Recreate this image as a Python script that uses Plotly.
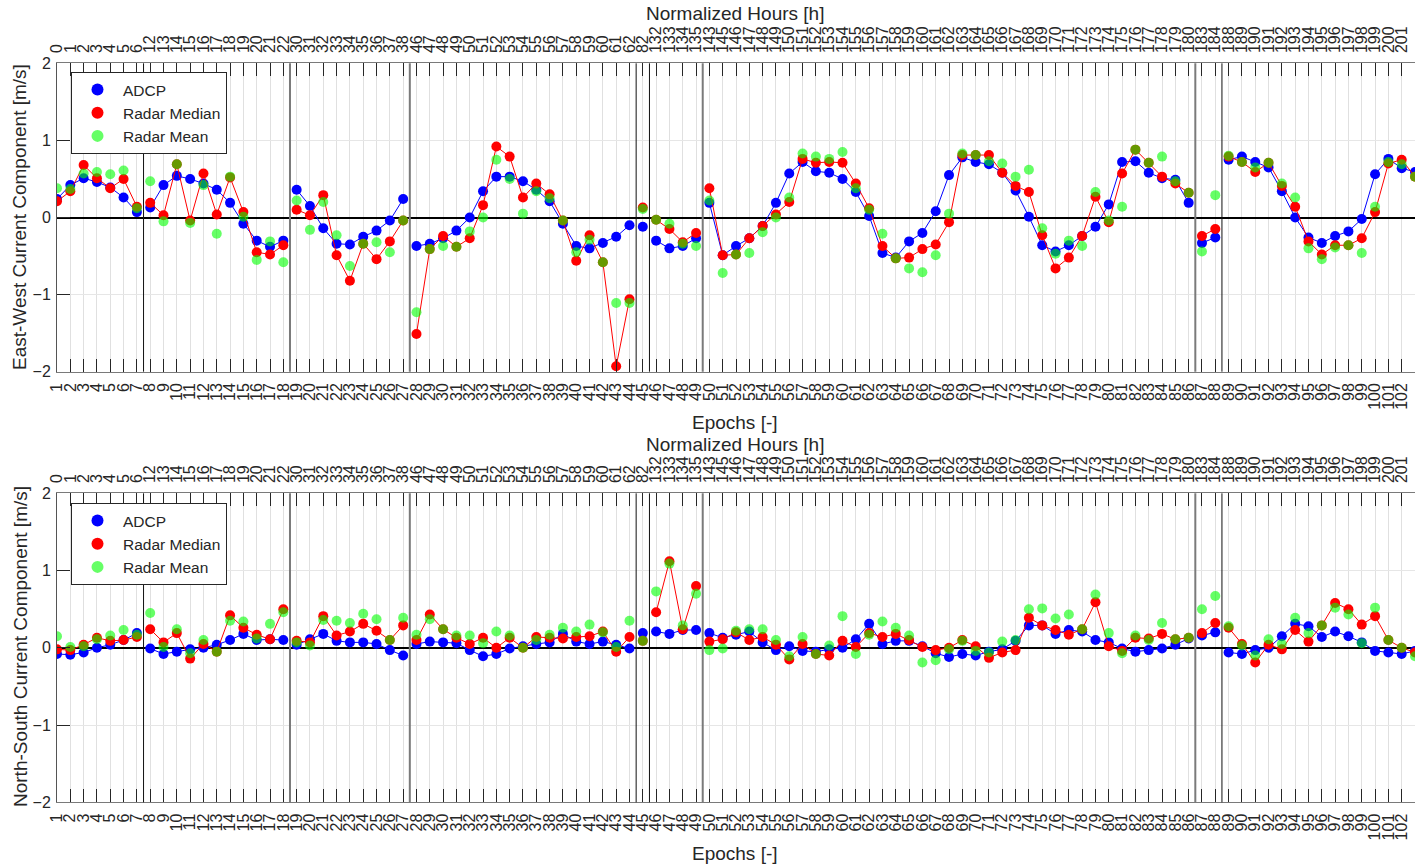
import plotly.graph_objects as go

# Epoch index (bottom axis) and the matching normalized hour (top axis)
epochs = [1, 2, 3, 4, 5, 6, 7, 8, 9, 10, 11, 12, 13, 14, 15, 16, 17, 18, 19, 20,
          21, 22, 23, 24, 25, 26, 27, 28, 29, 30, 31, 32, 33, 34, 35, 36, 37, 38, 39, 40,
          41, 42, 43, 44, 45, 46, 47, 48, 49, 50, 51, 52, 53, 54, 55, 56, 57, 58, 59, 60,
          61, 62, 63, 64, 65, 66, 67, 68, 69, 70, 71, 72, 73, 74, 75, 76, 77, 78, 79, 80,
          81, 82, 83, 84, 85, 86, 87, 88, 89, 90, 91, 92, 93, 94, 95, 96, 97, 98, 99, 100,
          101, 102, 103]
hours = [0, 1, 2, 3, 4, 5, 6,
         12, 13, 14, 15, 16, 17, 18, 19, 20, 21, 22,
         30, 31, 32, 33, 34, 35, 36, 37, 38,
         46, 47, 48, 49, 50, 51, 52, 53, 54, 55, 56, 57, 58, 59, 60, 61, 62,
         82,
         132, 133, 134, 135,
         143, 145, 146, 147, 148, 149, 150, 151, 152, 153, 154, 155, 156, 157, 158, 159,
         160, 161, 162, 163, 164, 165, 166, 167, 168, 169, 170, 171, 172, 173, 174, 175,
         176, 177, 178, 179, 180,
         183, 184,
         188, 189, 190, 191, 192, 193, 194, 195, 196, 197, 198, 199, 200, 201, 202]

# First epoch of each continuous measurement block
segment_starts = [1, 8, 19, 28, 45, 46, 50, 87, 89]
# Block separators drawn as vertical lines (dark = thin black, light = thick grey)
separator_dark = [7.5, 44.5, 45.5, 88.5]
separator_light = [18.5, 27.5, 49.5, 86.5]

# East-West component [m/s]
ew_adcp = [0.24, 0.42, 0.51, 0.46, 0.39, 0.26, 0.07, 0.13, 0.42, 0.54, 0.50, 0.44, 0.36, 0.19, -0.08,
           -0.30, -0.38, -0.30, 0.36, 0.15, -0.14, -0.34, -0.35, -0.25, -0.17, -0.04, 0.24, -0.37,
           -0.34, -0.27, -0.17, 0.00, 0.34, 0.53, 0.53, 0.47, 0.36, 0.21, -0.08, -0.37, -0.40, -0.33,
           -0.25, -0.10, -0.12, -0.30, -0.40, -0.37, -0.27, 0.19, -0.49, -0.37, -0.27, -0.11, 0.19,
           0.57, 0.72, 0.60, 0.58, 0.50, 0.33, 0.02, -0.46, -0.52, -0.31, -0.20, 0.08, 0.55, 0.78,
           0.72, 0.69, 0.58, 0.35, 0.01, -0.36, -0.44, -0.36, -0.24, -0.12, 0.17, 0.72, 0.73, 0.58,
           0.51, 0.49, 0.19, -0.33, -0.26, 0.75, 0.79, 0.72, 0.65, 0.34, 0.00, -0.26, -0.33, -0.24,
           -0.18, -0.02, 0.56, 0.76, 0.64, 0.59]
ew_median = [0.21, 0.34, 0.68, 0.51, 0.38, 0.50, 0.14, 0.19, 0.03, 0.69, -0.04, 0.57, 0.04, 0.52, 0.07,
             -0.45, -0.48, -0.36, 0.10, 0.03, 0.29, -0.49, -0.82, -0.34, -0.54, -0.31, -0.04, -1.51,
             -0.41, -0.24, -0.38, -0.27, 0.16, 0.92, 0.79, 0.26, 0.44, 0.30, -0.04, -0.56, -0.23,
             -0.58, -1.93, -1.06, 0.13, -0.03, -0.15, -0.32, -0.20, 0.38, -0.49, -0.48, -0.27, -0.11,
             0.04, 0.20, 0.76, 0.71, 0.72, 0.71, 0.44, 0.12, -0.37, -0.53, -0.52, -0.41, -0.35, -0.06,
             0.81, 0.81, 0.81, 0.58, 0.41, 0.33, -0.23, -0.66, -0.52, -0.24, 0.27, -0.06, 0.57, 0.88,
             0.71, 0.53, 0.44, 0.32, -0.24, -0.15, 0.79, 0.72, 0.59, 0.71, 0.41, 0.14, -0.31, -0.48,
             -0.36, -0.36, -0.27, 0.07, 0.70, 0.75, 0.53]
ew_mean = [0.38, 0.37, 0.57, 0.59, 0.56, 0.61, 0.12, 0.47, -0.05, 0.69, -0.07, 0.42, -0.21, 0.53, 0.01,
           -0.55, -0.31, -0.58, 0.22, -0.16, 0.20, -0.23, -0.63, -0.34, -0.32, -0.45, -0.04, -1.23,
           -0.41, -0.37, -0.38, -0.18, 0.00, 0.75, 0.50, 0.05, 0.34, 0.25, -0.04, -0.45, -0.29, -0.58,
           -1.11, -1.11, 0.11, -0.03, -0.08, -0.34, -0.37, 0.22, -0.72, -0.48, -0.46, -0.19, 0.00,
           0.26, 0.83, 0.79, 0.76, 0.85, 0.38, 0.10, -0.21, -0.53, -0.66, -0.71, -0.49, 0.05, 0.83,
           0.81, 0.73, 0.70, 0.53, 0.62, -0.14, -0.47, -0.30, -0.37, 0.33, -0.04, 0.14, 0.88, 0.71,
           0.79, 0.47, 0.32, -0.44, 0.29, 0.80, 0.72, 0.65, 0.71, 0.44, 0.26, -0.40, -0.54, -0.39,
           -0.36, -0.46, 0.14, 0.72, 0.69, 0.53]

# North-South component [m/s]
ns_adcp = [-0.08, -0.09, -0.06, 0.00, 0.04, 0.10, 0.19, -0.01, -0.08, -0.05, -0.02, 0.00, 0.04, 0.10,
           0.18, 0.10, 0.11, 0.10, 0.04, 0.11, 0.18, 0.09, 0.07, 0.07, 0.05, -0.03, -0.10, 0.05, 0.08,
           0.07, 0.06, -0.03, -0.11, -0.08, -0.01, 0.02, 0.05, 0.07, 0.18, 0.08, 0.05, 0.08, 0.04,
           -0.01, 0.19, 0.21, 0.18, 0.23, 0.23, 0.19, 0.13, 0.17, 0.21, 0.07, -0.03, 0.02, -0.04,
           -0.05, -0.02, 0.00, 0.11, 0.31, 0.05, 0.09, 0.09, 0.02, -0.07, -0.12, -0.08, -0.10, -0.05,
           -0.02, 0.09, 0.29, 0.29, 0.18, 0.23, 0.21, 0.10, 0.07, -0.01, -0.05, -0.03, -0.01, 0.04,
           0.12, 0.16, 0.20, -0.06, -0.08, -0.03, 0.00, 0.15, 0.31, 0.28, 0.14, 0.21, 0.15, 0.07,
           -0.04, -0.06, -0.08, -0.04]
ns_median = [-0.02, -0.03, 0.04, 0.13, 0.09, 0.10, 0.14, 0.24, 0.07, 0.19, -0.14, 0.05, -0.05, 0.42,
             0.26, 0.17, 0.11, 0.50, 0.09, 0.07, 0.41, 0.16, 0.21, 0.31, 0.22, 0.10, 0.29, 0.10, 0.43,
             0.24, 0.13, 0.05, 0.13, 0.00, 0.13, 0.00, 0.14, 0.13, 0.12, 0.14, 0.15, 0.21, -0.05, 0.14,
             0.09, 0.46, 1.12, 0.24, 0.80, 0.08, 0.11, 0.20, 0.10, 0.14, 0.04, -0.15, 0.05, -0.08,
             -0.10, 0.09, 0.01, 0.19, 0.14, 0.18, 0.10, 0.01, -0.03, 0.00, 0.10, 0.02, -0.13, -0.06,
             -0.03, 0.39, 0.29, 0.23, 0.17, 0.24, 0.59, 0.02, -0.04, 0.13, 0.12, 0.18, 0.11, 0.13,
             0.19, 0.32, 0.26, 0.05, -0.19, 0.04, -0.02, 0.23, 0.08, 0.29, 0.58, 0.50, 0.30, 0.41,
             0.10, 0.00, -0.06]
ns_mean = [0.15, 0.01, 0.02, 0.11, 0.16, 0.23, 0.17, 0.45, 0.01, 0.24, -0.07, 0.10, -0.05, 0.35, 0.34,
           0.12, 0.31, 0.46, 0.07, 0.03, 0.36, 0.35, 0.32, 0.44, 0.37, 0.10, 0.39, 0.17, 0.37, 0.24,
           0.16, 0.16, 0.06, 0.21, 0.16, 0.00, 0.10, 0.17, 0.26, 0.21, 0.30, 0.20, 0.01, 0.35, 0.09,
           0.73, 1.09, 0.29, 0.70, -0.03, -0.01, 0.22, 0.24, 0.24, 0.10, -0.11, 0.14, -0.08, 0.03,
           0.41, -0.08, 0.17, 0.34, 0.26, 0.16, -0.19, -0.16, -0.02, 0.09, -0.04, -0.06, 0.08, 0.10,
           0.50, 0.51, 0.38, 0.43, 0.24, 0.69, 0.19, -0.07, 0.16, 0.10, 0.32, 0.11, 0.13, 0.50, 0.67,
           0.28, 0.03, -0.10, 0.11, 0.05, 0.39, 0.19, 0.29, 0.52, 0.43, 0.06, 0.52, 0.10, 0.00, -0.11]

series_names = ["ADCP", "Radar Median", "Radar Mean"]
BLUE = "rgb(0,0,255)"
RED = "rgb(255,0,0)"
GREEN = "rgba(0,255,0,0.6)"
TXT = "#262626"
FONT = "Liberation Sans"

W, H = 1415, 866
ML = 57


def broken(values):
    """Insert gaps between measurement blocks so lines do not bridge them."""
    xs, ys = [], []
    for e, v in zip(epochs, values):
        if e in segment_starts and e != segment_starts[0]:
            xs.append(None)
            ys.append(None)
        xs.append(e)
        ys.append(v)
    return xs, ys


def py(px):
    return 1 - px / H


def pxx(px):
    return (px - ML) / (W - ML)


fig = go.Figure()

panels = [
    dict(x="x", y="y", xt="x3", legend="legend", data=(ew_adcp, ew_median, ew_mean)),
    dict(x="x2", y="y2", xt="x4", legend="legend2", data=(ns_adcp, ns_median, ns_mean)),
]

for p in panels:
    adcp, med, mean = p["data"]
    for vals, col in ((adcp, BLUE), (med, RED)):
        bx, by = broken(vals)
        fig.add_trace(go.Scatter(x=bx, y=by, mode="lines+markers", xaxis=p["x"], yaxis=p["y"],
                                 line=dict(color=col, width=1),
                                 marker=dict(color=col, size=10, line=dict(width=0)),
                                 showlegend=False, hoverinfo="skip"))
    fig.add_trace(go.Scatter(x=epochs, y=mean, mode="markers", xaxis=p["x"], yaxis=p["y"],
                             marker=dict(color=GREEN, size=10, line=dict(width=0)),
                             showlegend=False, hoverinfo="skip"))
    # legend entries (marker only)
    for name, col in zip(series_names, (BLUE, RED, GREEN)):
        fig.add_trace(go.Scatter(x=[None], y=[None], mode="markers", name=name,
                                 xaxis=p["x"], yaxis=p["y"], legend=p["legend"],
                                 marker=dict(color=col, size=10)))
    # carrier for the top (hours) axis
    fig.add_trace(go.Scatter(x=[epochs[0], epochs[-1]], y=[None, None], mode="markers",
                             xaxis=p["xt"], yaxis=p["y"], showlegend=False, hoverinfo="skip"))

top_dom = [py(371.7), py(63.3)]
bot_dom = [py(802.3), py(493.3)]

xr = [epochs[0], epochs[-1]]
bottom_axis = dict(range=xr, tickmode="array", tickvals=epochs, ticktext=[str(e) for e in epochs],
                   tickangle=-90, ticks="inside", ticklen=13, tickwidth=1, tickcolor=TXT,
                   tickfont=dict(family=FONT, size=16, color=TXT), ticklabelstandoff=4,
                   showgrid=True, gridcolor="#e0e0e0", gridwidth=1, zeroline=False,
                   showline=True, linecolor="#7a7a7a", linewidth=1, domain=[0, 1],
                   automargin=False)
top_axis = dict(range=xr, tickmode="array", tickvals=epochs, ticktext=[str(h) for h in hours],
                tickangle=-90, ticks="inside", ticklen=13, tickwidth=1, tickcolor=TXT,
                tickfont=dict(family=FONT, size=16, color=TXT), side="top", ticklabelstandoff=6,
                showgrid=False, zeroline=False, showline=True, linecolor="#7a7a7a", linewidth=1,
                automargin=False)
y_axis = dict(range=[-2, 2], tickmode="array", tickvals=[-2, -1, 0, 1, 2],
              ticks="inside", ticklen=13, tickwidth=1, tickcolor=TXT,
              tickfont=dict(family=FONT, size=16, color=TXT), ticklabelstandoff=2,
              showgrid=True, gridcolor="#e6e6e6", gridwidth=1,
              zeroline=True, zerolinecolor="#000000", zerolinewidth=1.5,
              showline=True, linecolor="#555555", linewidth=1, automargin=False)

fig.update_layout(
    width=W, height=H,
    margin=dict(l=ML, r=0, t=0, b=0, pad=0, autoexpand=False),
    paper_bgcolor="white", plot_bgcolor="white",
    font=dict(family=FONT, color=TXT),
    xaxis=dict(bottom_axis, anchor="y"),
    xaxis2=dict(bottom_axis, anchor="y2"),
    xaxis3=dict(top_axis, overlaying="x", anchor="y"),
    xaxis4=dict(top_axis, overlaying="x2", anchor="y2"),
    yaxis=dict(y_axis, domain=top_dom, anchor="x"),
    yaxis2=dict(y_axis, domain=bot_dom, anchor="x2"),
)

leg_common = dict(xanchor="left", yanchor="top", bgcolor="white", bordercolor=TXT, borderwidth=1,
                  font=dict(family=FONT, size=15.5, color=TXT), itemwidth=41,
                  itemsizing="constant")
fig.update_layout(
    legend=dict(leg_common, x=pxx(71), y=py(72)),
    legend2=dict(leg_common, x=pxx(71), y=py(503)),
)

# block separators
shapes = []
for yref in ("y domain", "y2 domain"):
    xref = "x" if yref == "y domain" else "x2"
    for xv in separator_dark:
        shapes.append(dict(type="line", xref=xref, yref=yref, x0=xv, x1=xv, y0=0, y1=1,
                           line=dict(color="#111111", width=1), layer="above"))
    for xv in separator_light:
        shapes.append(dict(type="line", xref=xref, yref=yref, x0=xv, x1=xv, y0=0, y1=1,
                           line=dict(color="#7a7a7a", width=2), layer="above"))
fig.update_layout(shapes=shapes)

title_font = dict(family=FONT, size=19, color=TXT)
ann = []
for ty, by_, ly, ytxt in ((14, 422, 217, "East-West Current Component [m/s]"),
                          (444, 853, 647, "North-South Current Component [m/s]")):
    ann.append(dict(text="Normalized Hours [h]", x=pxx(735), y=py(ty), xref="paper", yref="paper",
                    xanchor="center", yanchor="middle", showarrow=False, font=title_font))
    ann.append(dict(text="Epochs [-]", x=pxx(735), y=py(by_), xref="paper", yref="paper",
                    xanchor="center", yanchor="middle", showarrow=False, font=title_font))
    ann.append(dict(text=ytxt, x=pxx(20), y=py(ly), xref="paper", yref="paper", textangle=-90,
                    xanchor="center", yanchor="middle", showarrow=False, font=title_font))
fig.update_layout(annotations=ann)

fig.write_html("out.html")
